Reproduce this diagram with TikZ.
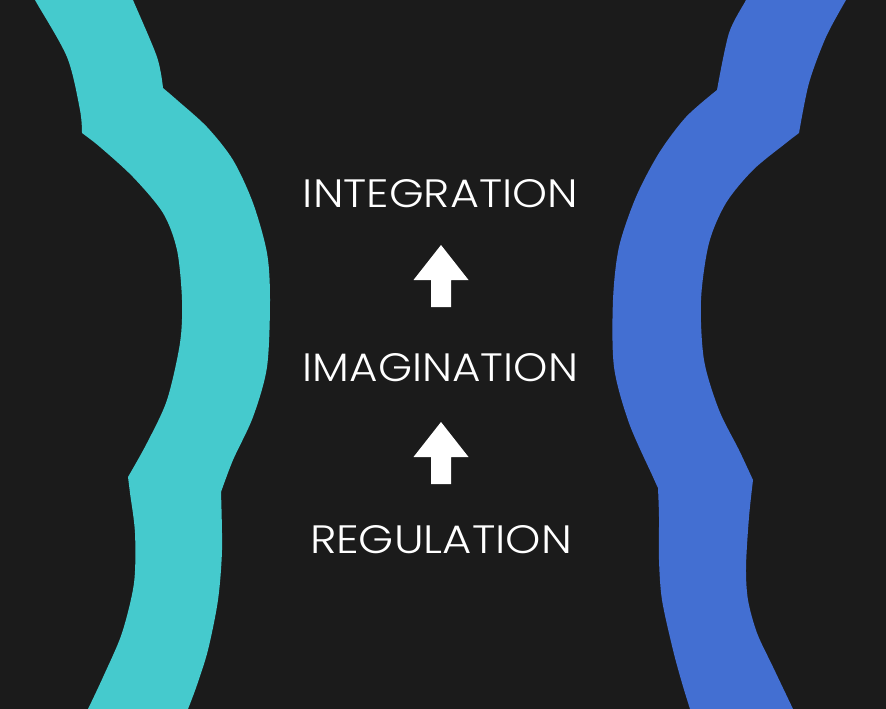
\documentclass[tikz,border=0pt]{standalone}
\usepackage{fontspec}
\setmainfont{Poppins}[UprightFont=* Light]
\definecolor{bgc}{HTML}{1B1B1B}
\definecolor{cyanband}{HTML}{45CACD}
\definecolor{blueband}{HTML}{436FD2}
\begin{document}
\begin{tikzpicture}[x=1pt,y=-1pt,
  lbl/.style={inner sep=0pt,text=white,font=\fontsize{40}{40}\selectfont},
  band/.style={line join=miter},
  uparr/.pic={\fill[white] (-10,0) -- (-10,-27) -- (-27.5,-27) -- (0,-62) -- (27.5,-27) -- (10,-27) -- (10,0) -- cycle;}]
\useasboundingbox (0,0) rectangle (886,709);
\fill[bgc] (0,0) rectangle (886,709);
\begin{scope}
\clip (0,0) rectangle (886,709);
% cyan band
\fill[cyanband,band]
  plot[smooth] coordinates {(32,-8) (35,0) (67,57) (80,110) (82,133)}
  -- plot[smooth] coordinates {(82,133) (100,147) (133,177) (163,213) (177,250) (182,300) (180,343) (167,400) (147,443) (128,477)}
  -- plot[smooth] coordinates {(128,477) (130,493) (135,533) (134,583) (122,633) (104,675) (88,709) (83,718)}
  -- plot[smooth] coordinates {(184,718) (188,709) (197,685) (208,650) (218,600) (222,550) (221,492)}
  -- plot[smooth] coordinates {(221,492) (233,460) (253,417) (267,367) (270,300) (267,253) (253,203) (233,160) (207,127) (177,100) (163,88)}
  -- plot[smooth] coordinates {(163,88) (157,57) (133,0) (130,-8)}
  -- cycle;
% blue band
\fill[blueband,band]
  plot[smooth] coordinates {(749,-8) (746,0) (729,33) (717,90)}
  -- plot[smooth] coordinates {(717,90) (686,117) (659,153) (636,197) (619,247) (613,300) (614,367) (629,423) (653,477) (658,488)}
  -- plot[smooth] coordinates {(658,488) (659,517) (659,560) (662,600) (673,650) (682,683) (690,709) (693,718)}
  -- plot[smooth] coordinates {(797,718) (793,709) (773,667) (757,633) (748,600) (746,567) (749,517) (753,480)}
  -- plot[smooth] coordinates {(753,480) (739,450) (719,410) (704,360) (701,300) (709,243) (726,203) (753,170) (786,143) (799,133)}
  -- plot[smooth] coordinates {(799,133) (809,83) (826,37) (846,0) (851,-8)}
  -- cycle;
\end{scope}
% labels
\node[lbl] (integ) at (440.5,194) {\resizebox{275pt}{28pt}{INTEGRATION}};
\node[lbl] (imag) at (440.5,367.5) {\resizebox{275pt}{28pt}{IMAGINATION}};
\node[lbl] (regul) at (441,539.5) {\resizebox{262pt}{28pt}{REGULATION}};
% arrows
\pic (arrA) at (441,307) {uparr};
\pic (arrB) at (441,484) {uparr};
\end{tikzpicture}
\end{document}
